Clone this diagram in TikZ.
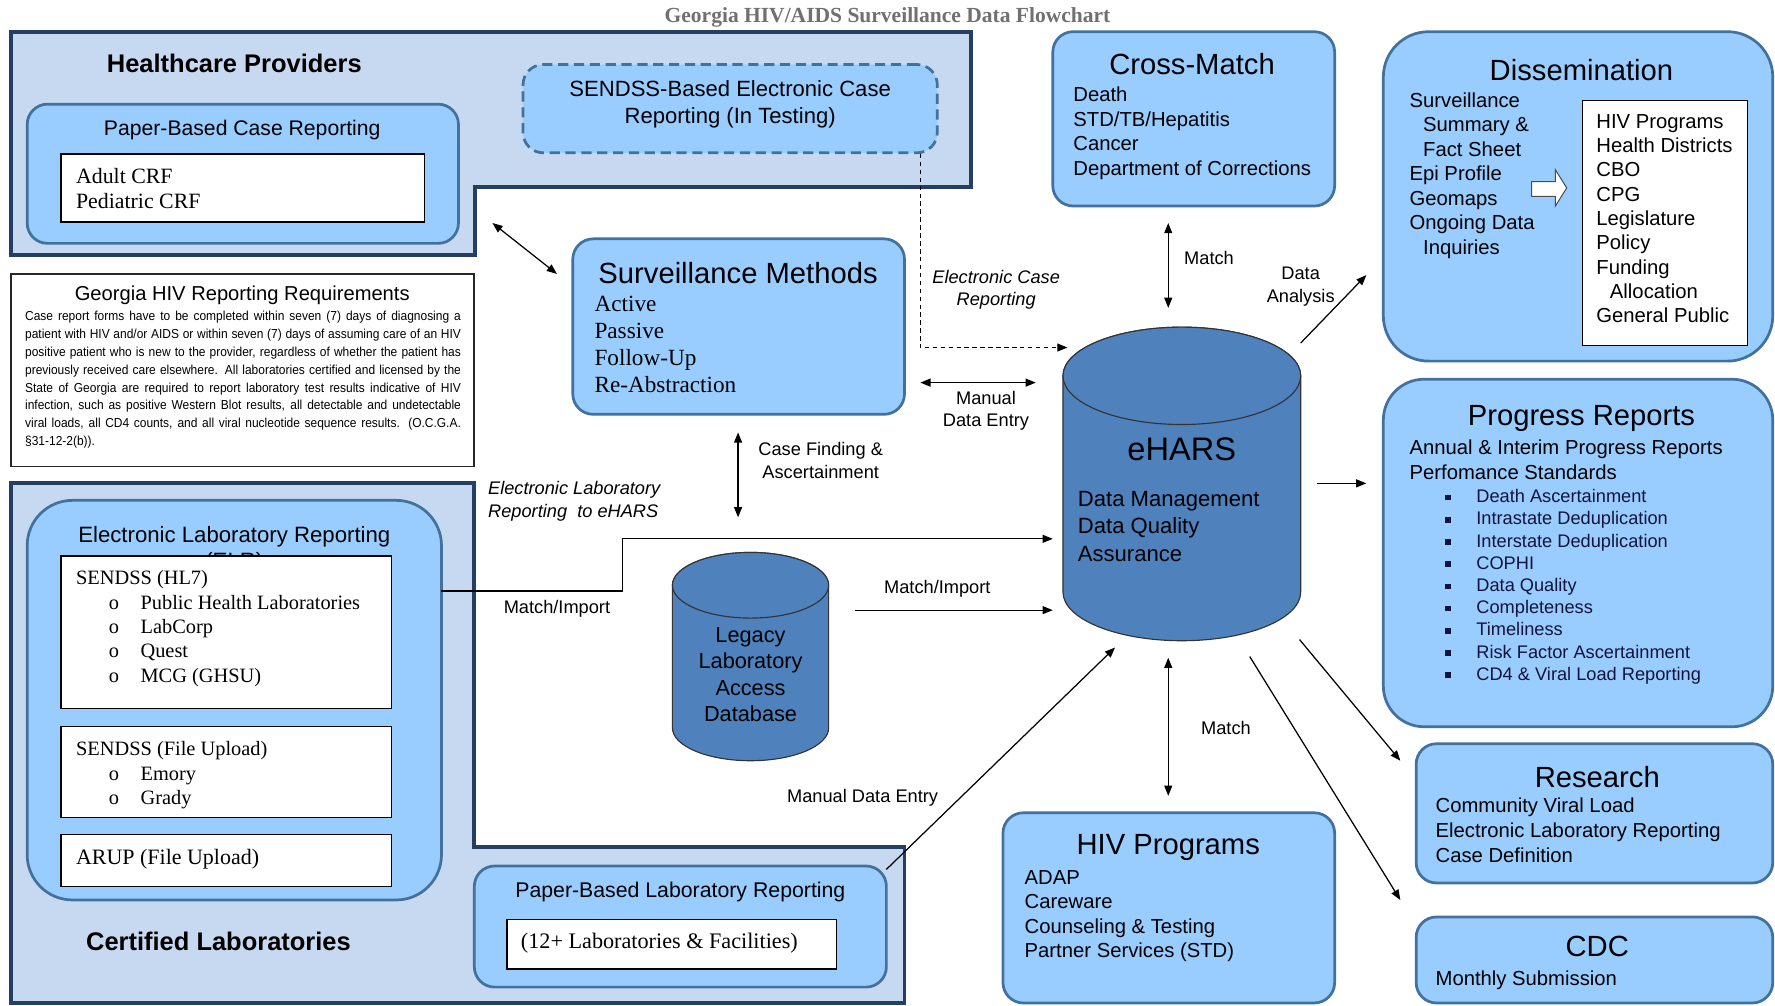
\documentclass[tikz,border=0pt]{standalone}
\usepackage{fontspec}
\setmainfont{Liberation Sans}
\newfontfamily\tmsfont{Liberation Serif}
\newfontfamily\nrwfont[FakeStretch=0.92]{Liberation Sans}
\usetikzlibrary{arrows.meta,fit,calc}
\definecolor{outerfill}{HTML}{C6D9F1}
\definecolor{outerline}{HTML}{243F60}
\definecolor{boxfill}{HTML}{99CCFF}
\definecolor{boxline}{HTML}{41719C}
\definecolor{dbfill}{HTML}{4F81BD}
\definecolor{ttlgray}{HTML}{707070}
\definecolor{navytext}{HTML}{14143A}
\newcommand\fsz[2]{\fontsize{#1}{#2}\selectfont}
\newcommand\bul{\hspace*{29pt}\makebox[28pt][l]{o}}
\newcommand\ind{\hspace*{12pt}}
\newcommand\sqb{\makebox[27.5pt][l]{\raisebox{2pt}{\rule{5pt}{5pt}}}}
\begin{document}
\begin{tikzpicture}[x=1pt,y=-1pt,
  outer/.style={draw=outerline, fill=outerfill, line width=3.5pt, line join=miter},
  box/.style={draw=boxline, fill=boxfill, line width=2.4pt, rounded corners=18pt, inner sep=0pt},
  wbox/.style={draw=black, fill=white, line width=1.2pt, inner sep=0pt},
  txt/.style={inner sep=0pt, align=left, anchor=north west},
  ctxt/.style={inner sep=0pt, align=center},
  cyl/.style={draw=black!80, fill=dbfill, line width=1pt},
  conn/.style={line width=1.1pt, -{Triangle[length=9pt,width=7pt]}},
  conn2/.style={line width=1.1pt, {Triangle[length=9pt,width=7pt]}-{Triangle[length=9pt,width=7pt]}},
  lbl/.style={inner sep=0pt, align=center, font=\fsz{16.1}{20}}
]
\useasboundingbox (0,0) rectangle (1568,888);
\clip (0,0) rectangle (1568,888);
\fill[white] (0,0) rectangle (1568,888);

% Title
\node[font=\tmsfont\bfseries\fsz{19}{22}, text=ttlgray, inner sep=0pt] (title) at (784,15) {Georgia HIV/AIDS Surveillance Data Flowchart};

% Healthcare providers
\draw[outer] (10,28) -- (858,28) -- (858,165) -- (420,165) -- (420,225) -- (10,225) -- cycle;
\node[font=\bfseries\fsz{22.5}{26}, inner sep=0pt] (hcp) at (207,56) {Healthcare Providers};
\node[box, fit={(24,92) (405,215)}] (pbcr) {};
\node[ctxt, font=\fsz{18.7}{22}] (pbcrT) at (214,115) {Paper-Based Case Reporting};
\node[wbox, fit={(54,136) (375,196)}] (crf) {};
\node[txt, font=\tmsfont\fsz{19.3}{22}] (crfT) at (67,148.6) {Adult CRF\\Pediatric CRF};
\node[box, dashed, dash pattern=on 9pt off 5pt, fit={(462,57) (828,135)}] (sendss) {};
\node[ctxt, font=\fsz{19.5}{24}] (sendssT) at (645,92) {SENDSS-Based Electronic Case\\Reporting (In Testing)};

% Requirements
\node[draw=black!85, fill=white, line width=1.5pt, inner sep=0pt, fit={(10,242) (419,412)}] (req) {};
\node[ctxt, font=\fsz{17.8}{20}] (reqT) at (214,261) {Georgia HIV Reporting Requirements};
\node[txt, text width=385pt, align=justify, font=\nrwfont\fsz{11.5}{15.7}] (reqP) at (22,275) {Case report forms have to be completed within seven (7) days of diagnosing a\linebreak patient with HIV and/or AIDS or within seven (7) days of assuming care of an HIV\linebreak positive patient who is new to the provider, regardless of whether the patient has\linebreak previously received care elsewhere. All laboratories certified and licensed by the\linebreak State of Georgia are required to report laboratory test results indicative of HIV\linebreak infection, such as positive Western Blot results, all detectable and undetectable\linebreak viral loads, all CD4 counts, and all viral nucleotide sequence results. (O.C.G.A.\linebreak §31-12-2(b)).};

% Certified laboratories
\draw[outer] (10,427) -- (419,427) -- (419,748) -- (799,748) -- (799,886) -- (10,886) -- cycle;
\node[font=\bfseries\fsz{22.5}{26}, inner sep=0pt] (cl) at (193,832) {Certified Laboratories};
\node[box, rounded corners=40pt, fit={(24,442) (390,795)}] (elr) {};
\node[ctxt, font=\fsz{19.6}{23}] (elrT) at (207,485.5) {Electronic Laboratory Reporting\\(ELR)};
\node[wbox, fit={(54,491) (346,626)}] (hl7) {};
\node[wbox, fit={(54,642) (346,722)}] (fu) {};
\node[wbox, fit={(54,737) (346,783)}] (arup) {};
\node[txt, font=\tmsfont\fsz{18}{21.5}] (hl7T) at (67,504) {SENDSS (HL7)\\\bul Public Health Laboratories\\\bul LabCorp\\\bul Quest\\\bul MCG (GHSU)};
\node[txt, font=\tmsfont\fsz{18}{21.5}] (fuT) at (67,655) {SENDSS (File Upload)\\\bul Emory\\\bul Grady};
\node[txt, font=\tmsfont\fsz{19.4}{22}] (arupT) at (67,749.6) {ARUP (File Upload)};
\node[box, fit={(419,765) (783,872)}] (pblr) {};
\node[ctxt, font=\fsz{18.8}{22}] (pblrT) at (601,788) {Paper-Based Laboratory Reporting};
\node[wbox, fit={(448,812) (739,856)}] (labs) {};
\node[txt, font=\tmsfont\fsz{19.6}{22}] (labsT) at (460,824.5) {(12+ Laboratories \& Facilities)};

% Surveillance methods
\node[box, fit={(506,211) (799,366)}] (sm) {};
\node[ctxt, font=\fsz{25.8}{30}] (smT) at (652,241) {Surveillance Methods};
\node[txt, font=\tmsfont\fsz{20.5}{24}] (smL) at (525,261.2) {Active\\Passive\\Follow-Up\\Re-Abstraction};

% Legacy cylinder
\draw[cyl] (594,517) -- (594,643) arc[start angle=180,end angle=0,x radius=69,y radius=29] -- (732,517) arc[start angle=0,end angle=-180,x radius=69,y radius=29] -- cycle;
\draw[cyl] (663,517) ellipse[x radius=69, y radius=29];
\node[ctxt, font=\fsz{19.2}{23.3}] (legacy) at (663,596) {Legacy\\Laboratory\\Access\\Database};

% eHARS cylinder
\draw[cyl] (939,332) -- (939,523) arc[start angle=180,end angle=0,x radius=105,y radius=43] -- (1149,332) arc[start angle=0,end angle=-180,x radius=105,y radius=43] -- cycle;
\draw[cyl] (1044,332) ellipse[x radius=105, y radius=43];
\node[inner sep=0pt, fit={(939,289) (1149,566)}] (ehars) {};
\node[ctxt, font=\fsz{28.8}{32}] (eharsT) at (1044,397) {eHARS};
\node[txt, font=\fsz{19.5}{24}] (eharsL) at (952,434) {Data Management\\Data Quality\\Assurance};

% Cross-Match
\node[box, fit={(930,28) (1179,182)}] (cm) {};
\node[ctxt, font=\fsz{25.8}{30}] (cmT) at (1053,57) {Cross-Match};
\node[txt, font=\fsz{17.9}{21.7}] (cmL) at (948,76.6) {Death\\STD/TB/Hepatitis\\Cancer\\Department of Corrections};

% Dissemination
\node[box, rounded corners=40pt, fit={(1222,28) (1566,319)}] (dis) {};
\node[ctxt, font=\fsz{25.8}{30}] (disT) at (1397,62) {Dissemination};
\node[txt, font=\fsz{17.9}{21.67}] (disL) at (1245,81.6) {Surveillance\\\ind Summary \&\\\ind Fact Sheet\\Epi Profile\\Geomaps\\Ongoing Data\\\ind Inquiries};
\node[wbox, line width=1pt, fit={(1398,89) (1544,305)}] (aud) {};
\node[txt, font=\fsz{17.9}{21.5}] (audL) at (1410,100.6) {HIV Programs\\Health Districts\\CBO\\CPG\\Legislature\\Policy\\Funding\\\ind Allocation\\General Public};
\draw[fill=white, draw=black!70, line width=0.9pt] (1353,160.5) -- (1374,160.5) -- (1374,150) -- (1384,166) -- (1374,182) -- (1374,173.5) -- (1353,173.5) -- cycle;

% Progress reports
\node[box, rounded corners=36pt, fit={(1222,335) (1566,642)}] (pr) {};
\node[ctxt, font=\fsz{25.8}{30}] (prT) at (1397,370) {Progress Reports};
\node[txt, font=\fsz{17.9}{22}] (prL) at (1245,388.6) {Annual \& Interim Progress Reports\\Perfomance Standards};
\node[txt, font=\fsz{16.1}{19.6}, text=navytext] (prB) at (1276.5,432.2) {\sqb Death Ascertainment\\\sqb Intrastate Deduplication\\\sqb Interstate Deduplication\\\sqb COPHI\\\sqb Data Quality\\\sqb Completeness\\\sqb Timeliness\\\sqb Risk Factor Ascertainment\\\sqb CD4 \& Viral Load Reporting};

% Research
\node[box, fit={(1251,657) (1566,780)}] (res) {};
\node[ctxt, font=\fsz{25.8}{30}] (resT) at (1411,686) {Research};
\node[txt, font=\fsz{17.9}{22}] (resL) at (1268,704.6) {Community Viral Load\\Electronic Laboratory Reporting\\Case Definition};

% CDC
\node[box, fit={(1251,810) (1566,886)}] (cdc) {};
\node[ctxt, font=\fsz{25.8}{30}] (cdcT) at (1411,836) {CDC};
\node[txt, font=\fsz{17.9}{22}] (cdcL) at (1268,857.6) {Monthly Submission};

% HIV Programs
\node[box, fit={(886,718) (1179,886)}] (hivp) {};
\node[ctxt, font=\fsz{25.8}{30}] (hivpT) at (1032,749) {HIV Programs};
\node[txt, font=\fsz{17.9}{21.7}] (hivpL) at (905,768.6) {ADAP\\Careware\\Counseling \& Testing\\Partner Services (STD)};

% Connector end points
\coordinate (hcpEnd) at (435,197);
\coordinate (smEnd) at (492,242);
\coordinate (sdStart) at (813,136);
\coordinate (sdBend) at (813,307);
\coordinate (sdEnd) at (943,307);
\coordinate (mdeA) at (813,338);
\coordinate (mdeB) at (915,338);
\coordinate (cfA) at (652,382);
\coordinate (cfB) at (652,457);
\coordinate (elrA) at (390,522);
\coordinate (elrB) at (550,522);
\coordinate (elrC) at (550,476);
\coordinate (elrD) at (930,476);
\coordinate (legA) at (755,539);
\coordinate (legB) at (930,539);
\coordinate (cmA) at (1032,197);
\coordinate (cmB) at (1032,272);
\coordinate (daA) at (1149,303);
\coordinate (daB) at (1207,243);
\coordinate (prA) at (1163,427);
\coordinate (prB2) at (1207,427);
\coordinate (hpA) at (1032,581);
\coordinate (hpB) at (1032,703);
\coordinate (pbA) at (783,768);
\coordinate (pbB) at (985,572);
\coordinate (rsA) at (1148,565);
\coordinate (rsB) at (1237,672);
\coordinate (cdA) at (1104,580);
\coordinate (cdB) at (1237,795);

\draw[conn2] (hcpEnd) -- (smEnd);
\draw[conn, dashed, dash pattern=on 4pt off 3pt] (sdStart) -- (sdBend) -- (sdEnd);
\draw[conn2] (mdeA) -- (mdeB);
\draw[conn2] (cfA) -- (cfB);
\draw[conn] (elrA) -- (elrB) -- (elrC) -- (elrD);
\draw[conn] (legA) -- (legB);
\draw[conn2] (cmA) -- (cmB);
\draw[conn] (daA) -- (daB);
\draw[conn] (prA) -- (prB2);
\draw[conn2] (hpA) -- (hpB);
\draw[conn] (pbA) -- (pbB);
\draw[conn] (rsA) -- (rsB);
\draw[conn] (cdA) -- (cdB);

% Labels
\node[lbl, font=\itshape\fsz{16.1}{20}] (ecrL) at (880,256) {Electronic Case\\Reporting};
\node[lbl] (mdeL) at (871,363) {Manual\\Data Entry};
\node[lbl] (cfL) at (725,407) {Case Finding \&\\Ascertainment};
\node[txt, font=\itshape\fsz{16.1}{20}] (elrL) at (431,425.2) {Electronic Laboratory\\Reporting\ \ to eHARS};
\node[lbl] (mi1) at (492,538) {Match/Import};
\node[lbl] (mi2) at (828,520) {Match/Import};
\node[lbl] (m1) at (1068,228) {Match};
\node[lbl] (da) at (1149,253) {Data\\Analysis};
\node[lbl] (m2) at (1083,643) {Match};
\node[lbl] (mde2) at (762,705) {Manual Data Entry};
\end{tikzpicture}
\end{document}
